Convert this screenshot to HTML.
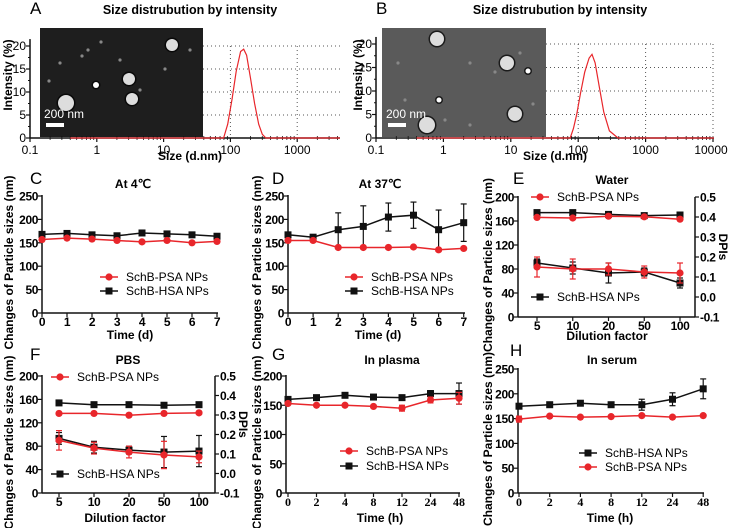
<!DOCTYPE html>
<html><head><meta charset="utf-8">
<style>
html,body{margin:0;padding:0;background:#fff;}
svg{display:block;font-family:"Liberation Sans",Arial,sans-serif;}
.t{font-weight:bold;font-size:12px;}
.tk{font-weight:bold;font-size:12px;letter-spacing:-0.4px;}
.s{font-family:"Liberation Serif",serif;font-weight:bold;font-size:12px;}
.lg{font-size:12px;}
.ttl{font-weight:bold;font-size:12px;}
.dt{font-weight:bold;font-size:12.5px;}
.lt{font-size:17px;}
</style></head>
<body>
<svg id="fig" width="729" height="528" viewBox="0 0 729 528" xmlns="http://www.w3.org/2000/svg"></svg>
<script>
// ---- DLS data (A, B) ----
const aSizes = [79, 91, 106, 122, 142, 158, 175, 200, 230, 265, 300, 340];
const aIntensity = [0, 3, 8.5, 14.5, 18.8, 19.3, 18, 13, 7.5, 3, 0.8, 0];
const bSizes = [76, 85, 95, 108, 125, 145, 160, 178, 205, 240, 290, 390];
const bIntensity = [0, 2, 5, 9.5, 14, 17, 17.8, 16, 11, 5.5, 1.5, 0];
// ---- C: at 4 C ----
const cDays = ['0','1','2','3','4','5','6','7'];
const cHSA = [168, 170, 167, 165, 171, 169, 167, 164];
const cPSA = [157, 160, 158, 155, 152, 155, 150, 153];
// ---- D: at 37 C ----
const dDays = ['0','1','2','3','4','5','6','7'];
const dHSA = [167, 162, 178, 185, 205, 209, 178, 193];
const dHSAerr = [0, 0, 36, 44, 30, 28, 42, 40];
const dPSA = [155, 155, 140, 140, 140, 141, 135, 138];
// ---- E: water ----
const eDil = ['5','10','20','50','100'];
const eHSA = [174, 174, 171, 169, 170];
const ePSA = [166, 165, 168, 167, 163];
const eHSApdi = [0.17, 0.145, 0.12, 0.125, 0.07];
const eHSApdiErr = [0.02, 0.03, 0.05, 0.02, 0.025];
const ePSApdi = [0.15, 0.14, 0.14, 0.125, 0.12];
const ePSApdiErr = [0.05, 0.05, 0.03, 0.03, 0.05];
// ---- F: PBS ----
const fDil = ['5','10','20','50','100'];
const fHSA = [154, 151, 151, 150, 151];
const fPSA = [136, 136, 133, 136, 137];
const fHSApdi = [0.18, 0.135, 0.12, 0.11, 0.115];
const fHSApdiErr = [0.03, 0.03, 0.02, 0.08, 0.08];
const fPSApdi = [0.17, 0.13, 0.11, 0.095, 0.085];
const fPSApdiErr = [0.05, 0.03, 0.03, 0.07, 0.03];
// ---- G: plasma ----
const gTimes = ['0','2','4','8','12','24','48'];
const gHSA = [160, 163, 167, 164, 163, 170, 170];
const gHSAerr = [0, 0, 0, 0, 0, 5, 18];
const gPSA = [153, 150, 150, 148, 145, 159, 162];
const gPSAerr = [0, 0, 0, 0, 5, 5, 10];
// ---- H: serum ----
const hTimes = ['0','2','4','8','12','24','48'];
const hHSA = [175, 178, 181, 178, 178, 189, 210];
const hHSAerr = [0, 0, 5, 0, 11, 13, 20];
const hPSA = [149, 155, 153, 154, 156, 153, 156];
const hPSAerr = [6, 0, 0, 0, 0, 0, 0];

const NS = 'http://www.w3.org/2000/svg';
const svg = document.getElementById('fig');
function mk(tag, attrs, name, parent) {
  const e = document.createElementNS(NS, tag);
  for (const k in attrs) e.setAttribute(k, attrs[k]);
  
  
  (parent || svg).appendChild(e);
  return e;
}
function txt(x, y, s, cls, name, anchor, rot) {
  const a = {x: x, y: y, class: cls, 'text-anchor': anchor || 'middle'};
  if (rot) a.transform = 'rotate(' + rot + ' ' + x + ' ' + y + ')';
  const t = mk('text', a, name);
  t.textContent = s;
  return t;
}
function line(x1, y1, x2, y2, col, w, name, dash) {
  const a = {x1: x1, y1: y1, x2: x2, y2: y2, stroke: col, 'stroke-width': w || 1.5};
  if (dash) a['stroke-dasharray'] = dash;
  return mk('line', a, name);
}
const RED = '#e8262b', BLK = '#111';

// ---------- DLS panels ----------
function dls(cfg) {
  const X = v => cfg.x0 + (Math.log10(v) + 1) * cfg.dec;
  const Y = v => cfg.y0 - v * cfg.sy;
  const g = mk('g', {}, cfg.p + '-sem-image');
  mk('rect', {x: cfg.img[0], y: cfg.img[1], width: cfg.img[2], height: cfg.img[3], fill: cfg.bg}, 'sem-background', g);
  cfg.dots.forEach(d => {
    mk('circle', {cx: d[0], cy: d[1], r: d[2] + 1.5, fill: '#000', opacity: 0.7}, 'particle-shadow', g);
    mk('circle', {cx: d[0], cy: d[1], r: d[2], fill: d[3] || '#ddd'}, 'particle', g);
  });
  cfg.small.forEach(d => mk('circle', {cx: d[0], cy: d[1], r: 1.6, fill: '#888'}, 'small-particle', g));
  mk('rect', {x: cfg.img[0] + 6, y: cfg.img[1] + cfg.img[3] - 14, width: 18, height: 4, fill: '#fff'}, 'scale-bar', g);
  txt(cfg.img[0] + 4, cfg.img[1] + cfg.img[3] - 19, '200 nm', 'lg', 'scale-bar-label', 'start').setAttribute('fill', '#fff');
  cfg.vgrid.forEach(v => line(X(v), Y(20), X(v), Y(0), '#555', 1, 'grid-line', '1,3'));
  [5, 10, 15, 20].forEach(v => line(cfg.img[0] + cfg.img[2], Y(v), cfg.xEnd, Y(v), '#555', 1, 'grid-line', '1,3'));
  line(cfg.x0, Y(0), cfg.xEnd, Y(0), BLK, 1.5, 'x-axis');
  line(cfg.x0, Y(0), cfg.x0, Y(21.5), BLK, 1.5, 'y-axis');
  [0, 5, 10, 15, 20].forEach(v => {
    line(cfg.x0 - 4, Y(v), cfg.x0, Y(v), BLK, 1.2, 'y-tick');
    txt(cfg.x0 - 4, Y(v) + 4, String(v), 'lg', 'y-tick-label', 'end');
  });
  [2.5, 7.5, 12.5, 17.5].forEach(v => line(cfg.x0 - 2, Y(v), cfg.x0, Y(v), BLK, 1, 'y-minor-tick'));
  cfg.xl.forEach((s, i) => {
    const v = Math.pow(10, i - 1);
    line(X(v), Y(0), X(v), Y(0) + 4, BLK, 1.2, 'x-tick');
    for (let m = 2; m < 10; m++) { const xv = X(v * m); if (xv < cfg.xEnd) line(xv, Y(0) - 2, xv, Y(0) + 2, BLK, 0.8, 'x-minor-tick'); }
    txt(Math.min(X(v), cfg.lblMax || 999), Y(0) + 16, s, 'lg', 'x-tick-label').setAttribute('font-size', '13');
  });
  let d = 'M' + X(0.4) + ' ' + Y(0);
  cfg.sizes.forEach((s, i) => d += ' L' + X(s).toFixed(1) + ' ' + Y(cfg.vals[i]).toFixed(1));
  d += ' L' + cfg.xEnd + ' ' + Y(0);
  mk('path', {d: d, fill: 'none', stroke: RED, 'stroke-width': 1.2}, 'intensity-curve');
  txt(cfg.tx, 14, 'Size distrubution by intensity', 'dt', 'chart-title');
  txt(cfg.lx, 14, cfg.p.toUpperCase(), 'lt', 'panel-label', 'start');
  txt(cfg.xlx, 160, 'Size (d.nm)', 't', 'x-axis-title');
  txt(cfg.yx, 75, 'Intensity (%)', 't', 'y-axis-title', 'middle', -90);
}
dls({p: 'a', x0: 30, dec: 66.8, xEnd: 340, y0: 138, sy: 4.6, img: [40, 28, 163, 109], bg: '#1e1e1e',
  dots: [[66, 103, 8], [129, 79, 6], [132, 99, 6], [172, 45, 6], [96, 85, 3, '#fff']],
  small: [[60, 63], [88, 50], [101, 42], [165, 69], [49, 81], [82, 56], [140, 90], [190, 50], [120, 60]],
  vgrid: [100, 1000], sizes: aSizes, vals: aIntensity, xl: ['0.1', '1', '10', '100', '1000'],
  tx: 190, lx: 30, xlx: 190, yx: 12});
dls({p: 'b', x0: 376, dec: 67.4, xEnd: 714, y0: 138, sy: 4.7, img: [382, 28, 164, 109], bg: '#5a5a5a',
  dots: [[437, 39, 7], [507, 63, 7], [515, 114, 7], [427, 125, 8], [439, 100, 2.5, '#fff'], [528, 71, 2.5, '#fff']],
  small: [[398, 63], [470, 63], [495, 72], [405, 100], [470, 125], [533, 104], [445, 120], [520, 53]],
  vgrid: [100, 1000, 10000], sizes: bSizes, vals: bIntensity, xl: ['0.1', '1', '10', '100', '1000', '10000'],
  tx: 560, lx: 376, xlx: 555, yx: 362, lblMax: 711});

// ---------- line panels ----------
function marker(x, y, type, name) {
  if (type === 'sq') mk('rect', {x: x - 3.5, y: y - 3.5, width: 7, height: 7, fill: BLK}, name);
  else mk('circle', {cx: x, cy: y, r: 3.6, fill: RED}, name);
}
function series(X, Y, vals, errs, col, type, name) {
  let d = '';
  vals.forEach((v, i) => d += (i ? ' L' : 'M') + X(i).toFixed(1) + ' ' + Y(v).toFixed(1));
  mk('path', {d: d, fill: 'none', stroke: col, 'stroke-width': 1.5}, name + '-line');
  vals.forEach((v, i) => {
    if (errs && errs[i]) {
      line(X(i), Y(v - errs[i]), X(i), Y(v + errs[i]), col, 1.2, name + '-error-bar');
      line(X(i) - 3, Y(v + errs[i]), X(i) + 3, Y(v + errs[i]), col, 1.2, name + '-error-cap');
      line(X(i) - 3, Y(v - errs[i]), X(i) + 3, Y(v - errs[i]), col, 1.2, name + '-error-cap');
    }
    marker(X(i), Y(v), type, name + '-point');
  });
}
function legendEntry(x, y, type, label) {
  line(x, y, x + 18, y, type === 'sq' ? BLK : RED, 1.5, 'legend-line');
  marker(x + 9, y, type, 'legend-marker');
  txt(x + 26, y + 4, label, 'lg', 'legend-label', 'start');
}
function axes(c) {
  const Y = v => c.yb - (v - c.ymin) / (c.ymax - c.ymin) * (c.yb - c.yt);
  const X = i => c.cx0 + i * c.dx;
  line(c.left, c.yb, c.xEnd, c.yb, BLK, 1.5, 'x-axis');
  line(c.left, c.yb, c.left, c.yt - 1, BLK, 1.5, 'y-axis');
  for (let v = c.ymin; v <= c.ymax + 1e-9; v += c.ystep) {
    line(c.left - 4, Y(v), c.left, Y(v), BLK, 1.2, 'y-tick');
    txt(c.left - 4, Y(v) + 4.5, String(v), 'tk', 'y-tick-label', 'end');
  }
  c.cats.forEach((s, i) => {
    line(X(i), c.yb, X(i), c.yb + 4, BLK, 1.2, 'x-tick');
    txt(X(i), c.yb + 13, s, c.serif ? 's' : 'tk', 'x-tick-label');
  });
  txt(c.ylx, (c.yb + c.yt) / 2 + 8, 'Changes of Particle sizes (nm)', 't', 'y-axis-title', 'middle', -90);
  txt(c.xlx, c.xly, c.xlabel, 't', 'x-axis-title');
  txt(c.tx, c.ty, c.title, 'ttl', 'chart-title');
  txt(c.lx, c.ly, c.letter, 'lt', 'panel-label', 'start');
  return {X: X, Y: Y};
}
function rightAxis(c) {
  const R = v => c.yb - (v + 0.1) / 0.6 * (c.yb - c.yt);
  line(c.right, c.yb, c.right, c.yt, BLK, 1.5, 'right-y-axis');
  for (let k = -1; k <= 5; k++) {
    const v = k / 10;
    line(c.right, R(v), c.right + 4, R(v), BLK, 1.2, 'right-y-tick');
    txt(c.right + 5, R(v) + 4.5, v.toFixed(1), 'tk', 'right-y-tick-label', 'start');
  }
  txt(c.right + 24, (c.yb + c.yt) / 2 - 10, 'DPIs', 't', 'right-y-axis-title', 'middle', 90);
  return R;
}

// C
let a = axes({left: 42, xEnd: 218, yb: 313, yt: 196, ymin: 0, ymax: 250, ystep: 50, cx0: 42, dx: 25, cats: cDays,
  ylx: 13, xlx: 130, xly: 339, xlabel: 'Time (d)', title: 'At 4℃', tx: 133, ty: 188, letter: 'C', lx: 30, ly: 184});
series(a.X, a.Y, cHSA, null, BLK, 'sq', 'c-hsa');
series(a.X, a.Y, cPSA, null, RED, 'ci', 'c-psa');
legendEntry(100, 277, 'ci', 'SchB-PSA NPs');
legendEntry(100, 291, 'sq', 'SchB-HSA NPs');
// D
a = axes({left: 288, xEnd: 465, yb: 313, yt: 196, ymin: 0, ymax: 250, ystep: 50, cx0: 288, dx: 25.1, cats: dDays,
  ylx: 261, xlx: 378, xly: 339, xlabel: 'Time (d)', title: 'At 37℃', tx: 380, ty: 188, letter: 'D', lx: 272, ly: 184});
series(a.X, a.Y, dHSA, dHSAerr, BLK, 'sq', 'd-hsa');
series(a.X, a.Y, dPSA, null, RED, 'ci', 'd-psa');
legendEntry(345, 277, 'ci', 'SchB-PSA NPs');
legendEntry(345, 291, 'sq', 'SchB-HSA NPs');
// E
a = axes({left: 518, xEnd: 695, yb: 317, yt: 197, ymin: 0, ymax: 200, ystep: 40, cx0: 537, dx: 35.75, cats: eDil,
  ylx: 492, xlx: 607, xly: 340, xlabel: 'Dilution factor', title: 'Water', tx: 612, ty: 184, letter: 'E', lx: 513, ly: 184});
let R = rightAxis({right: 695, yb: 317, yt: 197});
series(a.X, a.Y, eHSA, null, BLK, 'sq', 'e-hsa-size');
series(a.X, a.Y, ePSA, null, RED, 'ci', 'e-psa-size');
series(a.X, R, eHSApdi, eHSApdiErr, BLK, 'sq', 'e-hsa-pdi');
series(a.X, R, ePSApdi, ePSApdiErr, RED, 'ci', 'e-psa-pdi');
legendEntry(531, 197, 'ci', 'SchB-PSA NPs');
legendEntry(531, 297, 'sq', 'SchB-HSA NPs');
// F
a = axes({left: 42, xEnd: 215, yb: 493, yt: 376, ymin: 0, ymax: 200, ystep: 40, cx0: 59, dx: 35, cats: fDil,
  ylx: 13, xlx: 125, xly: 522, xlabel: 'Dilution factor', title: 'PBS', tx: 128, ty: 364, letter: 'F', lx: 30, ly: 360});
R = rightAxis({right: 215, yb: 493, yt: 376});
series(a.X, a.Y, fHSA, null, BLK, 'sq', 'f-hsa-size');
series(a.X, a.Y, fPSA, null, RED, 'ci', 'f-psa-size');
series(a.X, R, fHSApdi, fHSApdiErr, BLK, 'sq', 'f-hsa-pdi');
series(a.X, R, fPSApdi, fPSApdiErr, RED, 'ci', 'f-psa-pdi');
legendEntry(51, 377, 'ci', 'SchB-PSA NPs');
legendEntry(51, 474, 'sq', 'SchB-HSA NPs');
// G
a = axes({left: 286, xEnd: 460, yb: 493, yt: 376, ymin: 0, ymax: 200, ystep: 50, cx0: 288, dx: 28.5, cats: gTimes, serif: true,
  ylx: 261, xlx: 380, xly: 522, xlabel: 'Time (h)', title: 'In plasma', tx: 392, ty: 364, letter: 'G', lx: 272, ly: 360});
series(a.X, a.Y, gHSA, gHSAerr, BLK, 'sq', 'g-hsa');
series(a.X, a.Y, gPSA, gPSAerr, RED, 'ci', 'g-psa');
legendEntry(340, 451, 'ci', 'SchB-PSA NPs');
legendEntry(340, 466, 'sq', 'SchB-HSA NPs');
// H
a = axes({left: 518, xEnd: 704, yb: 493, yt: 369, ymin: 0, ymax: 250, ystep: 50, cx0: 519, dx: 30.7, cats: hTimes, serif: true,
  ylx: 492, xlx: 610, xly: 522, xlabel: 'Time (h)', title: 'In serum', tx: 612, ty: 364, letter: 'H', lx: 510, ly: 356});
series(a.X, a.Y, hHSA, hHSAerr, BLK, 'sq', 'h-hsa');
series(a.X, a.Y, hPSA, hPSAerr, RED, 'ci', 'h-psa');
legendEntry(579, 453, 'sq', 'SchB-HSA NPs');
legendEntry(579, 467, 'ci', 'SchB-PSA NPs');
</script>
</body></html>
